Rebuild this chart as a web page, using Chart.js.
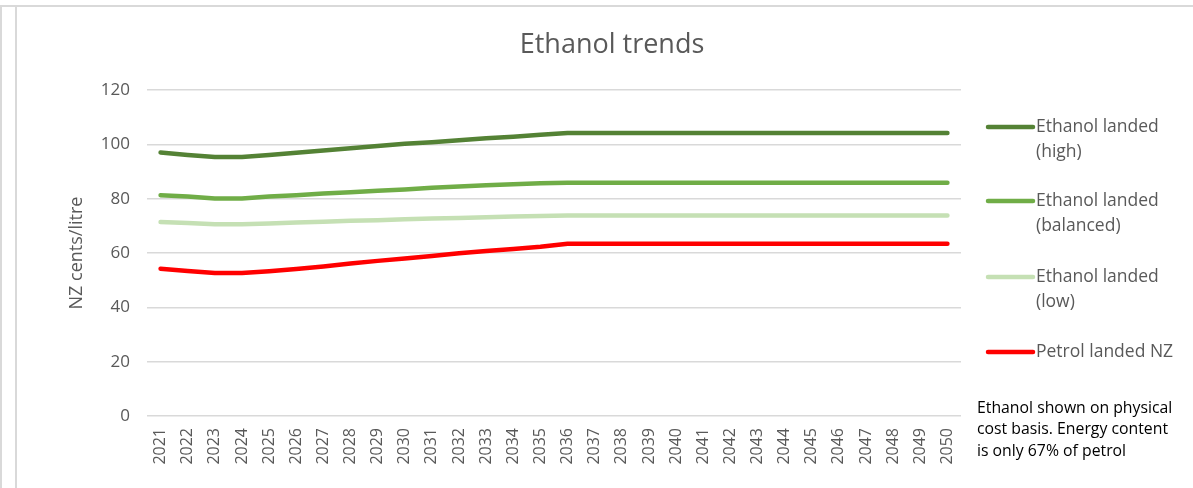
<!DOCTYPE html>
<html>
<head>
<meta charset="utf-8">
<script src="https://cdn.jsdelivr.net/npm/chart.js@4.4.1/dist/chart.umd.min.js"></script>
<style>
  html, body { margin: 0; padding: 0; background: #fff; }
  #wrap { position: relative; width: 1193px; height: 488px; overflow: hidden; }
  #frameTop { position: absolute; left: 0; top: 5px; width: 1193px; height: 2px; background: #d9d9d9; }
  #frameL1 { position: absolute; left: 0; top: 5px; width: 2px; height: 483px; background: #d9d9d9; }
  #frameL2 { position: absolute; left: 15px; top: 5px; width: 2px; height: 483px; background: #d9d9d9; }
  canvas { position: absolute; left: 0; top: 0; }
</style>
</head>
<body>
<div id="wrap">
  <canvas id="chartEtanol" width="1193" height="488"></canvas>
  <div id="frameTop"></div>
  <div id="frameL1"></div>
  <div id="frameL2"></div>
</div>
<script>
// Datos
const anios = ['2021','2022','2023','2024','2025','2026','2027','2028','2029','2030',
  '2031','2032','2033','2034','2035','2036','2037','2038','2039','2040',
  '2041','2042','2043','2044','2045','2046','2047','2048','2049','2050'];

const etanolAlto = [97.0, 96.1, 95.3, 95.3, 96.1, 96.9, 97.7, 98.6, 99.4, 100.2,
  100.8, 101.5, 102.2, 102.8, 103.5, 104.2, 104.2, 104.2, 104.2, 104.2,
  104.2, 104.2, 104.2, 104.2, 104.2, 104.2, 104.2, 104.2, 104.2, 104.2];

const etanolBalanceado = [81.3, 80.8, 80.1, 80.1, 80.8, 81.3, 81.9, 82.4, 82.9, 83.4,
  84.0, 84.5, 84.9, 85.3, 85.7, 85.9, 85.9, 85.9, 85.9, 85.9,
  85.9, 85.9, 85.9, 85.9, 85.9, 85.9, 85.9, 85.9, 85.9, 85.9];

const etanolBajo = [71.4, 71.0, 70.6, 70.6, 70.9, 71.2, 71.5, 71.9, 72.1, 72.4,
  72.7, 72.9, 73.2, 73.4, 73.6, 73.8, 73.8, 73.8, 73.8, 73.8,
  73.8, 73.8, 73.8, 73.8, 73.8, 73.8, 73.8, 73.8, 73.8, 73.8];

const gasolina = [54.2, 53.4, 52.6, 52.6, 53.3, 54.1, 55.0, 56.1, 57.1, 58.0,
  58.9, 59.9, 60.7, 61.5, 62.3, 63.4, 63.4, 63.4, 63.4, 63.4,
  63.4, 63.4, 63.4, 63.4, 63.4, 63.4, 63.4, 63.4, 63.4, 63.4];

const etiquetas = [
  ['Ethanol landed', '(high)'],
  ['Ethanol landed', '(balanced)'],
  ['Ethanol landed', '(low)'],
  ['Petrol landed NZ']
];
const colores = ['#548235', '#70ad47', '#c5e0b4', '#ff0000'];
const nota = ['Ethanol shown on physical', 'cost basis. Energy content', 'is only 67% of petrol'];
const tituloGrafico = 'Ethanol trends';
const tituloEjeY = 'NZ cents/litre';
const ticksY = [0, 20, 40, 60, 80, 100, 120];

const FUENTE = '"Open Sans", sans-serif';
const GRIS = '#595959';

// Título, leyenda y nota dibujados a mano
const pluginExtras = {
  id: 'extras',
  afterDraw(chart) {
    const ctx = chart.ctx;
    ctx.save();
    // Título (centrado en todo el marco del gráfico, no en el área de trazado)
    ctx.fillStyle = GRIS;
    ctx.font = '27px ' + FUENTE;
    ctx.textAlign = 'center';
    ctx.textBaseline = 'middle';
    ctx.fillText(tituloGrafico, 612, 45);

    // Leyenda
    const posY = [127, 201, 277, 352];
    chart.data.datasets.forEach((ds, i) => {
      const y = posY[i];
      ctx.strokeStyle = ds.borderColor;
      ctx.lineWidth = 4.5;
      ctx.lineCap = 'round';
      ctx.beginPath();
      ctx.moveTo(988, y);
      ctx.lineTo(1033, y);
      ctx.stroke();
      ctx.fillStyle = GRIS;
      ctx.font = '17.5px ' + FUENTE;
      ctx.textAlign = 'left';
      ctx.textBaseline = 'middle';
      etiquetas[i].forEach((t, j) => ctx.fillText(t, 1036, y + j * 25));
    });

    // Nota
    ctx.fillStyle = '#000';
    ctx.font = '15.8px ' + FUENTE;
    nota.forEach((t, j) => ctx.fillText(t, 977, 408 + j * 21.7));
    ctx.restore();
  }
};

function crearDataset(label, data, color) {
  return {
    label: label,
    data: data,
    borderColor: color,
    backgroundColor: color,
    borderWidth: 4.5,
    pointRadius: 0,
    tension: 0,
    borderCapStyle: 'round',
    borderJoinStyle: 'round',
    fill: false
  };
}

const ctx = document.getElementById('chartEtanol');
new Chart(ctx.getContext('2d'), {
  type: 'line',
  data: {
    labels: anios,
    datasets: [
      crearDataset(etiquetas[0].join(' '), etanolAlto, colores[0]),
      crearDataset(etiquetas[1].join(' '), etanolBalanceado, colores[1]),
      crearDataset(etiquetas[2].join(' '), etanolBajo, colores[2]),
      crearDataset(etiquetas[3].join(' '), gasolina, colores[3])
    ]
  },
  options: {
    responsive: false,
    animation: false,
    layout: { padding: { left: 20, right: 232, top: 90, bottom: 0 } },
    plugins: {
      legend: { display: false },
      tooltip: { enabled: false }
    },
    scales: {
      x: {
        offset: true,
        grid: { display: false, drawTicks: false },
        border: { display: false },
        ticks: {
          color: GRIS,
          font: { family: FUENTE, size: 16 },
          minRotation: 90,
          maxRotation: 90,
          autoSkip: false,
          padding: 12
        },
        afterFit: s => { s.height = 72; }
      },
      y: {
        min: 0,
        max: 120,
        afterBuildTicks: s => { s.ticks = ticksY.map(v => ({ value: v })); },
        grid: { color: '#d9d9d9', lineWidth: 1.5, drawTicks: false },
        border: { display: false },
        ticks: {
          color: GRIS,
          font: { family: FUENTE, size: 17 },
          padding: 17
        },
        title: {
          display: true,
          text: tituloEjeY,
          color: GRIS,
          font: { family: FUENTE, size: 18 },
          padding: { top: 46, bottom: 0 }
        },
        afterFit: s => { s.width = 127; }
      }
    }
  },
  plugins: [pluginExtras]
});
</script>
</body>
</html>
